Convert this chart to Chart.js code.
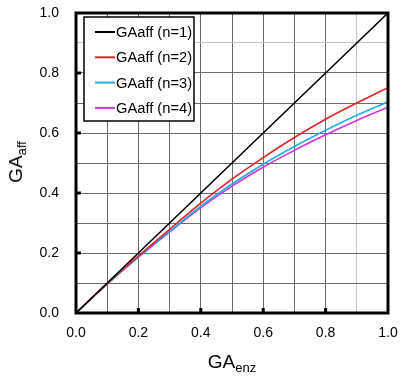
<!DOCTYPE html>
<html>
<head>
<meta charset="utf-8">
<script src="https://cdn.jsdelivr.net/npm/chart.js@4"></script>
<style>
html,body{margin:0;padding:0;background:#fff;}
#wrap{position:relative;width:400px;height:380px;}
canvas{position:absolute;left:0;top:0;}
.t{position:absolute;font-family:"Liberation Sans",Arial,sans-serif;color:#000;white-space:nowrap;line-height:1;}
.t sub{font-size:13px;vertical-align:-4px;}
#xt{font-size:19px;left:232px;top:352px;transform:translateX(-50%);}
#yt{font-size:19px;left:17px;top:162px;transform:translate(-50%,-50%) rotate(-90deg);}
</style>
</head>
<body>
<div id="wrap">
<canvas id="c" width="400" height="380"></canvas>
<div class="t" id="xt">GA<sub>enz</sub></div>
<div class="t" id="yt">GA<sub>aff</sub></div>
</div>
<script>
const gaEnz = [0, 0.1, 0.2, 0.3, 0.4, 0.5, 0.6, 0.7, 0.8, 0.9, 1.0];
const gaAffN1 = [0, 0.1, 0.2, 0.3, 0.4, 0.5, 0.6, 0.7, 0.8, 0.9, 1.0];
const gaAffN2 = [0, 0.098, 0.19, 0.279, 0.366, 0.446, 0.518, 0.585, 0.646, 0.70, 0.751];
const gaAffN3 = [0, 0.097, 0.188, 0.272, 0.356, 0.43, 0.496, 0.555, 0.609, 0.659, 0.704];
const gaAffN4 = [0, 0.096, 0.186, 0.27, 0.351, 0.423, 0.486, 0.542, 0.594, 0.642, 0.686];
const seriesLabels = ['GAaff (n=1)', 'GAaff (n=2)', 'GAaff (n=3)', 'GAaff (n=4)'];
const seriesColors = ['#000000', '#e02424', '#22aee0', '#d033e0'];
const tickLabels = ['0.0', '0.2', '0.4', '0.6', '0.8', '1.0'];

const FONT = '"Liberation Sans", Arial, sans-serif';
const allSeries = [gaAffN1, gaAffN2, gaAffN3, gaAffN4];
const datasets = allSeries.map((ys, i) => ({
  label: seriesLabels[i],
  data: gaEnz.map((x, j) => ({x: x, y: ys[j]})),
  borderColor: seriesColors[i],
  backgroundColor: seriesColors[i],
  borderWidth: 1.6,
  pointRadius: 0,
  showLine: true,
  fill: false,
  cubicInterpolationMode: 'monotone'
}));

function tickCb(v) {
  const r = Math.round(v * 10);
  if (r % 2 !== 0) return '';
  return tickLabels[r / 2] ?? '';
}
function gridColor(ctx) {
  const v = ctx.tick ? Math.round(ctx.tick.value * 10) : -1;
  if (v === 9) return '#c4c4c4';
  return '#6a6a6a';
}
function zeroPad(s) {
  s.paddingTop = 0; s.paddingBottom = 0; s.paddingLeft = 0; s.paddingRight = 0;
}

const framePlugin = {
  id: 'frame',
  afterDraw(chart) {
    const {ctx, chartArea: a, scales} = chart;
    ctx.save();
    ctx.fillStyle = '#000';
    for (let k = 1; k < tickLabels.length - 1; k++) {
      const v = k * 0.2;
      const px = scales.x.getPixelForValue(v);
      ctx.fillRect(px - 1.5, a.bottom - 5, 3, 5);
      const py = scales.y.getPixelForValue(v);
      ctx.fillRect(a.left, py - 1.5, 5, 3);
    }
    ctx.strokeStyle = '#000';
    ctx.lineWidth = 3;
    ctx.strokeRect(a.left, a.top, a.right - a.left, a.bottom - a.top);
    const lx = a.left + 8, ly = a.top + 4, lw = 110, lh = 104;
    ctx.fillStyle = '#fff';
    ctx.fillRect(lx, ly, lw, lh);
    ctx.lineWidth = 1.5;
    ctx.strokeRect(lx, ly, lw, lh);
    ctx.font = '14.7px ' + FONT;
    ctx.textBaseline = 'middle';
    ctx.textAlign = 'left';
    chart.data.datasets.forEach((ds, i) => {
      const y = ly + 15 + i * 25.3;
      ctx.strokeStyle = ds.borderColor;
      ctx.lineWidth = 2;
      ctx.beginPath();
      ctx.moveTo(lx + 11, y);
      ctx.lineTo(lx + 31, y);
      ctx.stroke();
      ctx.fillStyle = '#000';
      ctx.fillText(ds.label, lx + 32, y + 1);
    });
    ctx.restore();
  }
};

new Chart(document.getElementById('c'), {
  type: 'scatter',
  data: {datasets: datasets},
  options: {
    responsive: false,
    animation: false,
    layout: {padding: {left: 0, top: 13, right: 12, bottom: 0}},
    plugins: {legend: {display: false}, tooltip: {enabled: false}},
    scales: {
      x: {
        type: 'linear', min: 0, max: 1,
        afterFit(s) { s.height = 67; zeroPad(s); },
        ticks: {stepSize: 0.1, callback: tickCb, color: '#000', padding: 12, maxRotation: 0, autoSkip: false,
                font: {size: 14, family: FONT}},
        grid: {color: gridColor, lineWidth: 1, drawTicks: false},
        border: {display: false}
      },
      y: {
        type: 'linear', min: 0, max: 1,
        afterFit(s) { s.width = 76; zeroPad(s); },
        ticks: {stepSize: 0.1, callback: tickCb, color: '#000', padding: 17, autoSkip: false,
                font: {size: 14, family: FONT}},
        grid: {color: gridColor, lineWidth: 1, drawTicks: false},
        border: {display: false}
      }
    }
  },
  plugins: [framePlugin]
});
</script>
</body>
</html>
